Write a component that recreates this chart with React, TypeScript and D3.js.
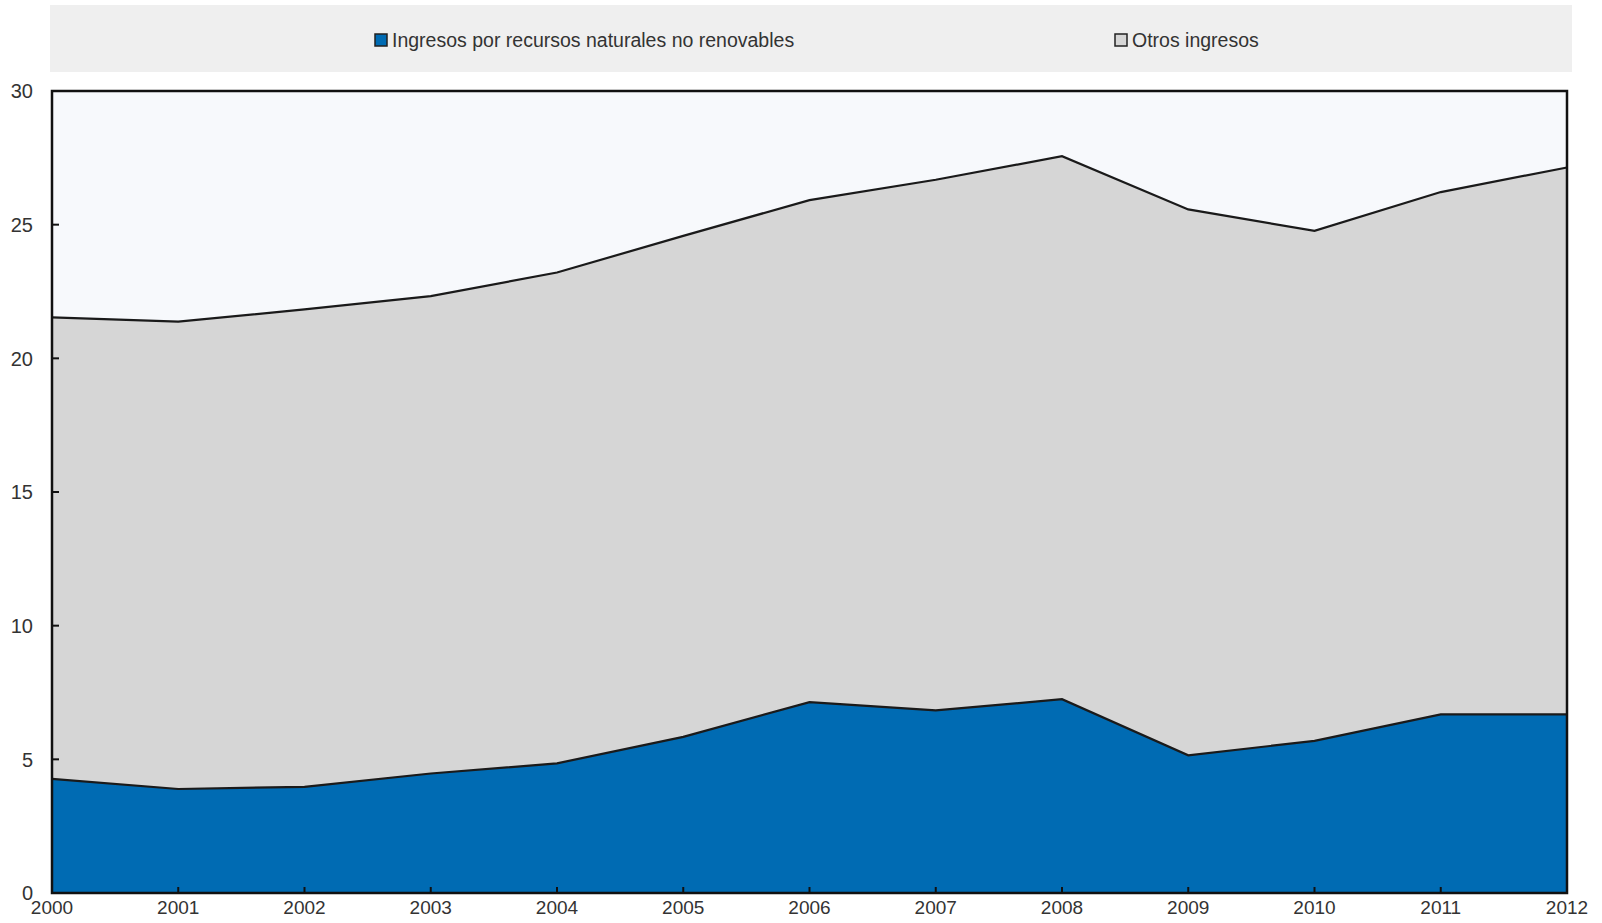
import React, { useEffect, useRef } from "react";
import * as d3 from "d3";

const years = [2000, 2001, 2002, 2003, 2004, 2005, 2006, 2007, 2008, 2009, 2010, 2011, 2012];
const recursos = [4.27, 3.89, 3.97, 4.47, 4.85, 5.84, 7.14, 6.83, 7.25, 5.15, 5.69, 6.68, 6.68];
const otros = [17.26, 17.48, 17.86, 17.86, 18.36, 18.74, 18.78, 19.85, 20.31, 20.42, 19.08, 19.54, 20.46];
const yTicks = [0, 5, 10, 15, 20, 25, 30];
const seriesNames = ["Ingresos por recursos naturales no renovables", "Otros ingresos"];
const seriesColors = ["#006bb3", "#d6d6d6"];

const W = 1602, H = 923;
const M = { left: 52, right: 1567, top: 91, bottom: 893 };
const FONT = "'Liberation Sans', Arial, sans-serif";

export default function App() {
  const ref = useRef<SVGSVGElement>(null);
  useEffect(() => {
    const svg = d3.select(ref.current);
    svg.selectAll("*").remove();
    const x = d3.scaleLinear().domain([2000, 2012]).range([M.left, M.right]);
    const y = d3.scaleLinear().domain([0, 30]).range([M.bottom, M.top]);

    const rows = years.map((yr, i) => ({ year: yr, recursos: recursos[i], otros: otros[i] }));
    const stack = d3.stack<any>().keys(["recursos", "otros"])(rows);

    // legend box
    svg.append("rect").attr("x", 50).attr("y", 5).attr("width", 1522).attr("height", 67).attr("fill", "#efefef");
    const legX = [375, 1115];
    seriesNames.forEach((n, i) => {
      svg.append("rect").attr("x", legX[i]).attr("y", 34).attr("width", 12).attr("height", 12)
        .attr("fill", seriesColors[i]).attr("stroke", "#222").attr("stroke-width", 1.5);
      svg.append("text").attr("x", legX[i] + 17).attr("y", 47).attr("font-family", FONT)
        .attr("font-size", 19.5).attr("fill", "#333").text(n);
    });

    // plot bg
    svg.append("rect").attr("x", M.left).attr("y", M.top).attr("width", M.right - M.left)
      .attr("height", M.bottom - M.top).attr("fill", "#f7f9fc");

    const area = d3.area<any>().x((d: any) => x(d.data.year)).y0((d: any) => y(d[0])).y1((d: any) => y(d[1]));
    const line = d3.line<any>().x((d: any) => x(d.data.year)).y((d: any) => y(d[1]));
    stack.forEach((s, i) => {
      svg.append("path").datum(s).attr("d", area).attr("fill", seriesColors[i]);
    });
    stack.forEach((s) => {
      svg.append("path").datum(s).attr("d", line).attr("fill", "none").attr("stroke", "#1a1a1a").attr("stroke-width", 2.2);
    });

    // frame
    svg.append("rect").attr("x", M.left).attr("y", M.top).attr("width", M.right - M.left)
      .attr("height", M.bottom - M.top).attr("fill", "none").attr("stroke", "#111").attr("stroke-width", 2.5);

    // y ticks
    yTicks.forEach((t) => {
      svg.append("line").attr("x1", M.left).attr("x2", M.left + 7).attr("y1", y(t)).attr("y2", y(t))
        .attr("stroke", "#111").attr("stroke-width", 2);
      svg.append("text").attr("x", 33).attr("y", y(t)).attr("dy", "0.36em").attr("text-anchor", "end")
        .attr("font-family", FONT).attr("font-size", 20).attr("fill", "#333").text(t);
    });
    // x ticks
    years.forEach((yr) => {
      svg.append("line").attr("x1", x(yr)).attr("x2", x(yr)).attr("y1", M.bottom).attr("y2", M.bottom - 6)
        .attr("stroke", "#111").attr("stroke-width", 2);
      svg.append("text").attr("x", x(yr)).attr("y", 914).attr("text-anchor", "middle")
        .attr("font-family", FONT).attr("font-size", 19).attr("fill", "#333").text(yr);
    });
  }, []);
  return (
    <svg ref={ref} width={W} height={H} style={{ position: "absolute", left: 0, top: 0, background: "#fff" }} />
  );
}
